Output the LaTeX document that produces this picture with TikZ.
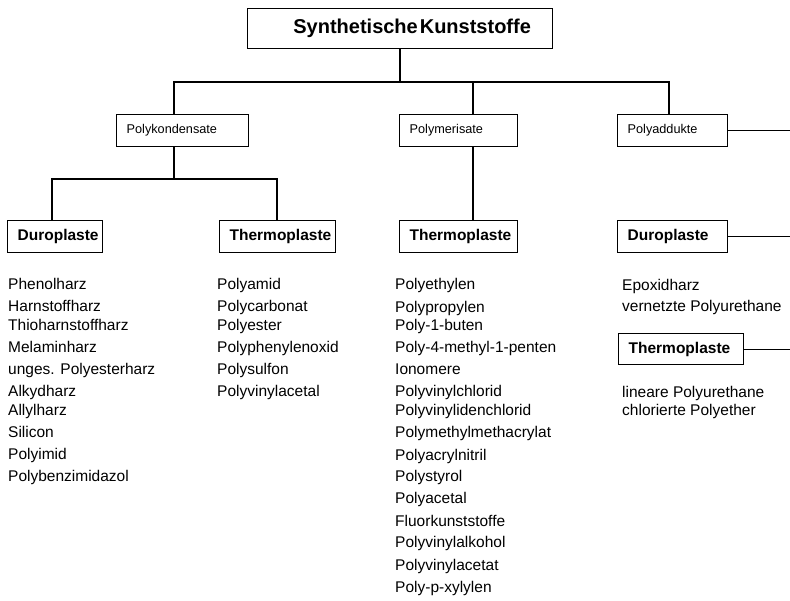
\documentclass[tikz,border=0pt]{standalone}
\usepackage{fontspec}
\setmainfont{Liberation Sans}
\begin{document}
\begin{tikzpicture}[x=1pt,y=-1pt,
  box/.style={draw, line width=1.3pt, anchor=north west, inner xsep=10pt, inner ysep=0pt, align=left},
  bigbox/.style={box, font=\fontsize{15.5}{18}\selectfont\bfseries, minimum height=32pt},
  smallbox/.style={box, font=\fontsize{12.7}{15}\selectfont, minimum height=32pt},
  item/.style={anchor=west, inner sep=0pt, font=\fontsize{15.5}{18}\selectfont, text height=11pt, text depth=3.5pt},
  conn/.style={line width=1.3pt}]
\useasboundingbox (0,0) rectangle (790,600);

% title
\node[box, inner xsep=0pt, text width=305pt, minimum height=40pt, align=center,
      font=\fontsize{20}{24}\selectfont\bfseries] (title) at (247,8)
      {\hspace*{24pt}Synthetische\hspace{2pt}Kunststoffe};

% level 1
\node[smallbox, text width=112pt] (pk) at (116,114) {Polykondensate};
\node[smallbox, text width=98pt] (pm) at (399,114) {Polymerisate};
\node[smallbox, text width=90pt] (pa) at (617,114) {Polyaddukte};

% level 2
\node[bigbox, text width=75pt] (pkd) at (7,220) {Duroplaste};
\node[bigbox, text width=96pt] (pkt) at (219,220) {Thermoplaste};
\node[bigbox, text width=98pt] (pmt) at (399,220) {Thermoplaste};
\node[bigbox, text width=90pt] (pad) at (617,220) {Duroplaste};
\node[bigbox, text width=105pt, minimum height=31pt] (pat) at (618,333) {Thermoplaste};

% connector helpers
\coordinate (j0) at (400,82);
\coordinate (jl) at (174,82);
\coordinate (jr) at (669,82);
\coordinate (jm) at (473,82);
\coordinate (k0) at (174,179);
\coordinate (kl) at (52,179);
\coordinate (kr) at (277,179);
\coordinate (edge) at (790,0);

\draw[conn] (title.south -| j0) -- (j0);
\draw[conn] (pk.north -| jl) -- (jl) -- (jr) -- (pa.north -| jr);
\draw[conn] (pm.north -| jm) -- (jm);
\draw[conn] (pk.south -| k0) -- (k0);
\draw[conn] (pkd.north -| kl) -- (kl) -- (kr) -- (pkt.north -| kr);
\draw[conn] (pm.south -| jm) -- (pmt.north -| jm);
\draw[conn] (pa.east) -- (pa.east -| edge);
\draw[conn] (pad.east) -- (pad.east -| edge);
\draw[conn] (pat.east) -- (pat.east -| edge);

% Polykondensate / Duroplaste
\node[item] (d1) at (8,286) {Phenolharz};
\node[item] (d2) at (8,308) {Harnstoffharz};
\node[item] (d3) at (8,326.5) {Thioharnstoffharz};
\node[item] (d4) at (8,349) {Melaminharz};
\node[item] (d5) at (8,371) {unges. Polyesterharz};
\node[item] (d6) at (8,393) {Alkydharz};
\node[item] (d7) at (8,411.5) {Allylharz};
\node[item] (d8) at (8,433.5) {Silicon};
\node[item] (d9) at (8,456) {Polyimid};
\node[item] (d10) at (8,478) {Polybenzimidazol};

% Polykondensate / Thermoplaste
\node[item] (t1) at (217,286) {Polyamid};
\node[item] (t2) at (217,308) {Polycarbonat};
\node[item] (t3) at (217,326.5) {Polyester};
\node[item] (t4) at (217,349) {Polyphenylenoxid};
\node[item] (t5) at (217,371) {Polysulfon};
\node[item] (t6) at (217,393) {Polyvinylacetal};

% Polymerisate / Thermoplaste
\node[item] (m1) at (395,286) {Polyethylen};
\node[item] (m2) at (395,309) {Polypropylen};
\node[item] (m3) at (395,326.5) {Poly-1-buten};
\node[item] (m4) at (395,349) {Poly-4-methyl-1-penten};
\node[item] (m5) at (395,371) {Ionomere};
\node[item] (m6) at (395,393) {Polyvinylchlorid};
\node[item] (m7) at (395,411.5) {Polyvinylidenchlorid};
\node[item] (m8) at (395,434) {Polymethylmethacrylat};
\node[item] (m9) at (395,456.5) {Polyacrylnitril};
\node[item] (m10) at (395,478) {Polystyrol};
\node[item] (m11) at (395,499.5) {Polyacetal};
\node[item] (m12) at (395,522.5) {Fluorkunststoffe};
\node[item] (m13) at (395,543.5) {Polyvinylalkohol};
\node[item] (m14) at (395,566.5) {Polyvinylacetat};
\node[item] (m15) at (395,589) {Poly-p-xylylen};

% Polyaddukte
\node[item] (a1) at (622,287) {Epoxidharz};
\node[item] (a2) at (622,308) {vernetzte Polyurethane};
\node[item] (a3) at (622,394) {lineare Polyurethane};
\node[item] (a4) at (622,412) {chlorierte Polyether};
\end{tikzpicture}
\end{document}
